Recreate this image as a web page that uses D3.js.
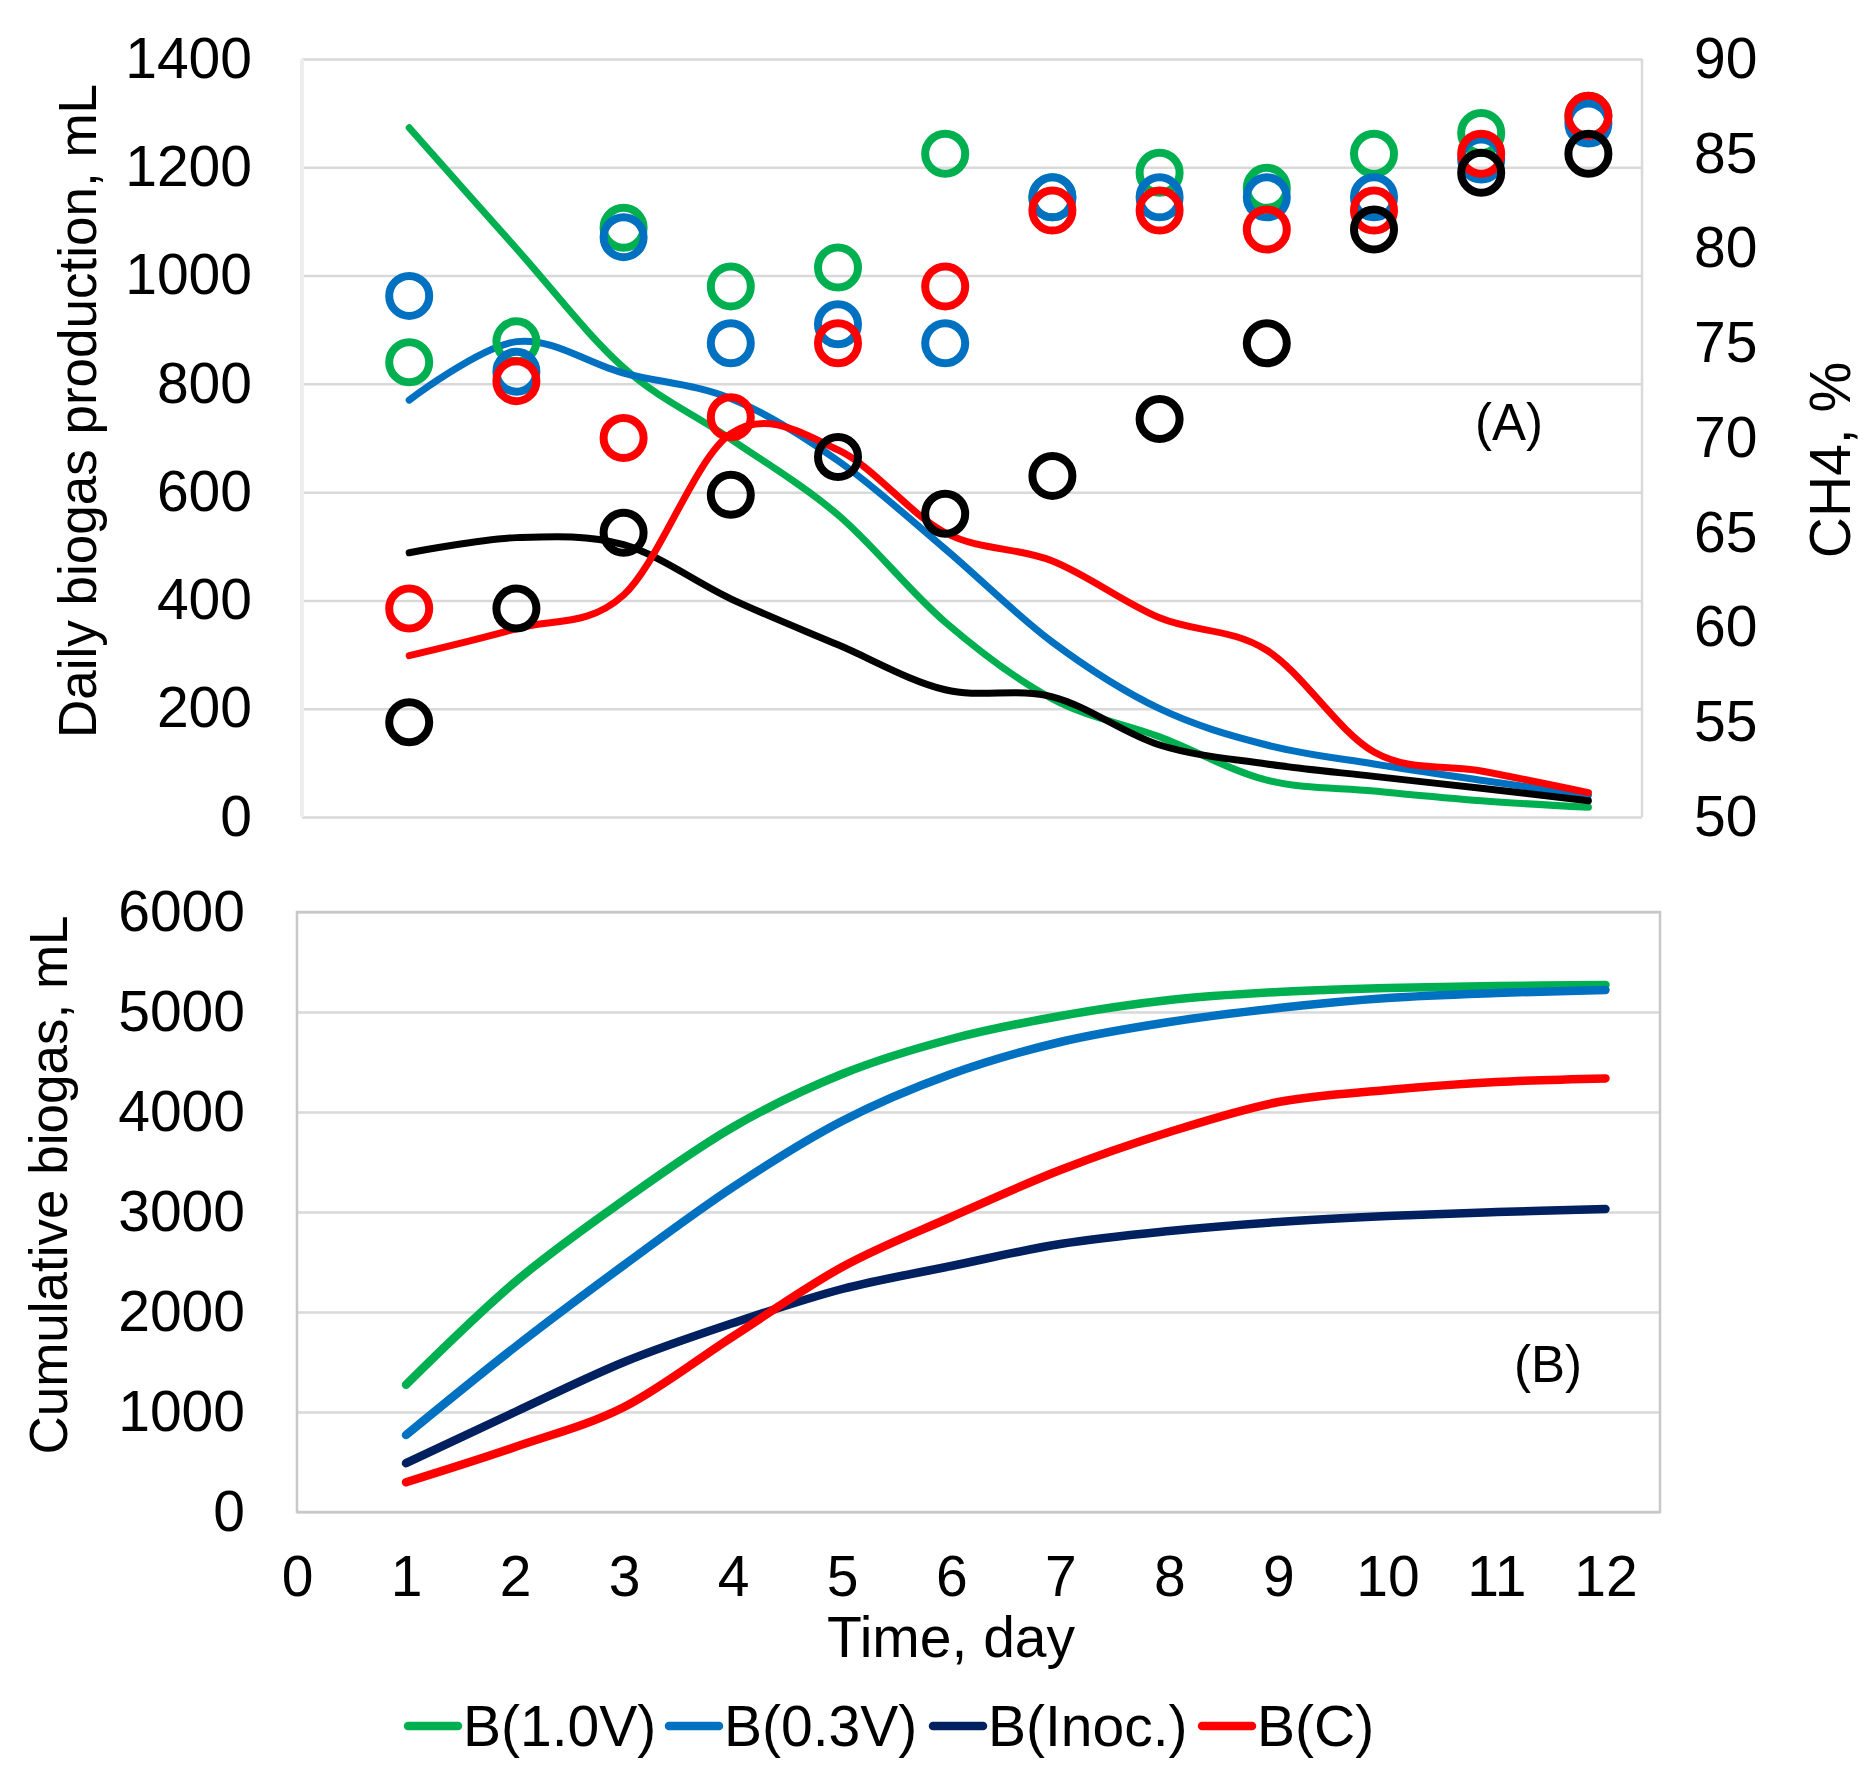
<!DOCTYPE html>
<html>
<head>
<meta charset="utf-8">
<script src="https://cdn.jsdelivr.net/npm/d3@7"></script>
<style>
  html, body { margin: 0; padding: 0; background: #fff; }
  svg { display: block; font-family: "Liberation Sans", Arial, sans-serif; }
</style>
</head>
<body>
<svg id="chart" width="1863" height="1781"></svg>
<script>
// ---------- data ----------
const days = [1, 2, 3, 4, 5, 6, 7, 8, 9, 10, 11, 12];
const seriesNames = ["B(1.0V)", "B(0.3V)", "B(Inoc.)", "B(C)"];

// (A) daily biogas production, mL
const dailyV10  = [1273, 1050, 830, 698, 558, 360, 218, 148, 68, 48, 30, 18];
const dailyV03  = [770, 878, 820, 773, 658, 495, 323, 200, 133, 98, 68, 40];
const dailyInoc = [488, 516, 503, 403, 318, 235, 222, 133, 98, 75, 53, 30];
const dailyC    = [298, 348, 410, 708, 678, 525, 473, 368, 308, 120, 85, 45];

// (A) CH4 content, %
const ch4V10  = [74.0, 75.1, 81.1, 78.0, 79.0, 85.0, 82.7, 84.0, 83.2, 85.0, 86.1, 87.0];
const ch4V03  = [77.5, 73.5, 80.6, 75.0, 76.0, 75.0, 82.7, 82.7, 82.7, 82.7, 84.7, 86.6];
const ch4C    = [61.0, 73.0, 70.0, 71.1, 75.0, 78.0, 82.0, 82.0, 81.0, 82.0, 85.0, 87.0];
const ch4Inoc = [55.0, 61.0, 65.0, 67.0, 69.0, 66.0, 68.0, 71.0, 75.0, 81.0, 84.0, 85.0];

// (B) cumulative biogas, mL
const cumV10  = [1273, 2300, 3120, 3850, 4380, 4730, 4960, 5120, 5200, 5240, 5260, 5271];
const cumV03  = [770, 1650, 2470, 3250, 3910, 4380, 4700, 4900, 5040, 5140, 5190, 5220];
const cumInoc = [488, 1000, 1500, 1890, 2230, 2460, 2680, 2810, 2900, 2960, 3000, 3030];
const cumC    = [298, 650, 1050, 1757, 2450, 2950, 3420, 3800, 4100, 4220, 4300, 4336];

// tick values
const xTicks = [0, 1, 2, 3, 4, 5, 6, 7, 8, 9, 10, 11, 12];
const yTicksA = [0, 200, 400, 600, 800, 1000, 1200, 1400];
const yTicksCH4 = [50, 55, 60, 65, 70, 75, 80, 85, 90];
const yTicksB = [0, 1000, 2000, 3000, 4000, 5000, 6000];

// ---------- styling ----------
const cGreen = "#00b050", cBlue = "#0070c0", cNavy = "#002060", cRed = "#ff0000", cBlack = "#000000";
const FS = 57;
const fmt = d3.format("d");

const svg = d3.select("#chart");
const curve = d3.curveCardinal.tension(0);

// ---------- panel A ----------
const A = { left: 302, right: 1642, top: 59, bottom: 817 };
const xA = d3.scaleLinear().domain([0, 12.5]).range([A.left, A.right]);
const yA = d3.scaleLinear().domain([0, 1400]).range([A.bottom, A.top]);
const yR = d3.scaleLinear().domain([50, 90]).range([A.bottom, A.top]);

const gA = svg.append("g");
// gridlines
gA.append("g").call(d3.axisLeft(yA).tickValues(yTicksA).tickSize(-(A.right - A.left)).tickFormat(""))
  .attr("transform", `translate(${A.left},0)`)
  .call(g => g.select(".domain").remove())
  .call(g => g.selectAll("line").attr("stroke", "#d9d9d9").attr("stroke-width", 2.5));
gA.append("line").attr("x1", A.right).attr("x2", A.right).attr("y1", A.top).attr("y2", A.bottom)
  .attr("stroke", "#d9d9d9").attr("stroke-width", 2.5);
gA.append("line").attr("x1", A.left).attr("x2", A.left).attr("y1", A.top).attr("y2", A.bottom)
  .attr("stroke", "#eeeeee").attr("stroke-width", 4);

// left tick labels
gA.append("g").attr("transform", `translate(${A.left},0)`)
  .call(d3.axisLeft(yA).tickValues(yTicksA).tickSize(0).tickPadding(50).tickFormat(fmt))
  .call(g => g.select(".domain").remove())
  .call(g => g.selectAll("text").attr("font-size", FS).attr("fill", "#000")
    .attr("font-family", "Liberation Sans, Arial, sans-serif"));
// right tick labels
gA.append("g").attr("transform", `translate(${A.right},0)`)
  .call(d3.axisRight(yR).tickValues(yTicksCH4).tickSize(0).tickPadding(52).tickFormat(fmt))
  .call(g => g.select(".domain").remove())
  .call(g => g.selectAll("text").attr("font-size", FS).attr("fill", "#000")
    .attr("font-family", "Liberation Sans, Arial, sans-serif"));

const lineA = d3.line().x((d, i) => xA(days[i])).y(d => yA(d)).curve(curve);
[[dailyV10, cGreen], [dailyV03, cBlue], [dailyInoc, cBlack], [dailyC, cRed]].forEach(([arr, col]) => {
  gA.append("path").attr("d", lineA(arr)).attr("fill", "none").attr("stroke", col)
    .attr("stroke-width", 7).attr("stroke-linecap", "round").attr("stroke-linejoin", "round");
});

[[ch4V10, cGreen], [ch4V03, cBlue], [ch4C, cRed], [ch4Inoc, cBlack]].forEach(([arr, col]) => {
  gA.append("g").selectAll("circle").data(arr).join("circle")
    .attr("cx", (d, i) => xA(days[i])).attr("cy", d => yR(d)).attr("r", 20)
    .attr("fill", "none").attr("stroke", col).attr("stroke-width", 8);
});

gA.append("text").attr("x", 1509).attr("y", 422).attr("dy", "0.35em").attr("text-anchor", "middle")
  .attr("font-size", 51).text("(A)");

svg.append("text").attr("transform", "translate(77,411) rotate(-90)").attr("dy", "0.35em")
  .attr("text-anchor", "middle").attr("font-size", 53).text("Daily biogas production, mL");
svg.append("text").attr("transform", "translate(1830,460) rotate(-90)").attr("dy", "0.35em")
  .attr("text-anchor", "middle").attr("font-size", FS).text("CH4, %");

// ---------- panel B ----------
const B = { left: 297, right: 1660, top: 912, bottom: 1512 };
const xB = d3.scaleLinear().domain([0, 12.5]).range([B.left, B.right]);
const yB = d3.scaleLinear().domain([0, 6000]).range([B.bottom, B.top]);

const gB = svg.append("g");
gB.append("g").attr("transform", `translate(${B.left},0)`)
  .call(d3.axisLeft(yB).tickValues(yTicksB).tickSize(-(B.right - B.left)).tickFormat(""))
  .call(g => g.select(".domain").remove())
  .call(g => g.selectAll("line").attr("stroke", "#d9d9d9").attr("stroke-width", 2.5));
gB.append("rect").attr("x", B.left).attr("y", B.top).attr("width", B.right - B.left)
  .attr("height", B.bottom - B.top).attr("fill", "none").attr("stroke", "#c8c8c8").attr("stroke-width", 2.5);

gB.append("g").attr("transform", `translate(${B.left},0)`)
  .call(d3.axisLeft(yB).tickValues(yTicksB).tickSize(0).tickPadding(52).tickFormat(fmt))
  .call(g => g.select(".domain").remove())
  .call(g => g.selectAll("text").attr("font-size", FS).attr("fill", "#000")
    .attr("font-family", "Liberation Sans, Arial, sans-serif"));

gB.append("g").attr("transform", `translate(0,${B.bottom})`)
  .call(d3.axisBottom(xB).tickValues(xTicks).tickSize(0).tickPadding(44).tickFormat(fmt))
  .call(g => g.select(".domain").remove())
  .call(g => g.selectAll("text").attr("font-size", FS).attr("fill", "#000")
    .attr("font-family", "Liberation Sans, Arial, sans-serif"));

const lineB = d3.line().x((d, i) => xB(days[i])).y(d => yB(d)).curve(curve);
[[cumV10, cGreen], [cumV03, cBlue], [cumInoc, cNavy], [cumC, cRed]].forEach(([arr, col]) => {
  gB.append("path").attr("d", lineB(arr)).attr("fill", "none").attr("stroke", col)
    .attr("stroke-width", 8.5).attr("stroke-linecap", "round").attr("stroke-linejoin", "round");
});

gB.append("text").attr("x", 1548).attr("y", 1364).attr("dy", "0.35em").attr("text-anchor", "middle")
  .attr("font-size", 51).text("(B)");

svg.append("text").attr("transform", "translate(48,1185) rotate(-90)").attr("dy", "0.35em")
  .attr("text-anchor", "middle").attr("font-size", 53).text("Cumulative biogas, mL");
svg.append("text").attr("x", 951).attr("y", 1637).attr("dy", "0.35em")
  .attr("text-anchor", "middle").attr("font-size", FS).text("Time, day");

// ---------- legend ----------
const legendX = [404, 665, 929, 1198];
const legendColors = [cGreen, cBlue, cNavy, cRed];
const legY = 1726;
const lg = svg.append("g");
seriesNames.forEach((name, i) => {
  lg.append("line").attr("x1", legendX[i] + 4).attr("x2", legendX[i] + 54).attr("y1", legY).attr("y2", legY)
    .attr("stroke", legendColors[i]).attr("stroke-width", 8.5).attr("stroke-linecap", "round");
  lg.append("text").attr("x", legendX[i] + 59).attr("y", legY).attr("dy", "0.35em")
    .attr("font-size", FS).text(name);
});
</script>
</body>
</html>
